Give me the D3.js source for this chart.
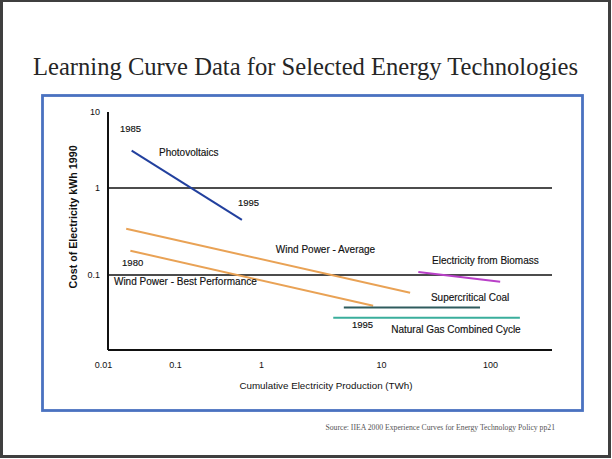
<!DOCTYPE html>
<html>
<head>
<meta charset="utf-8">
<script src="https://cdn.jsdelivr.net/npm/d3@7"></script>
<style>
  body { margin: 0; background: #fff; }
  svg text { font-family: "Liberation Sans", Arial, sans-serif; fill: #111; }
</style>
</head>
<body>
<svg id="chart" width="612" height="459"></svg>
<script>
// Tick values (log axes)
var xTicks = [0.01, 0.1, 1, 10, 100];
var yTicks = [0.01, 0.1, 1, 10];

// Learning curves: [cumulative production TWh, cost per kWh]
var photovoltaics = [[0.025, 3.1], [0.6, 0.43]];
var windAverage = [[0.021, 0.34], [18.5, 0.058]];
var windBest = [[0.024, 0.19], [8.6, 0.039]];
var biomass = [[22, 0.108], [124, 0.081]];
var supercriticalCoal = [[4.9, 0.037], [81, 0.037]];
var naturalGas = [[4, 0.027], [188, 0.027]];

var seriesNames = ["Photovoltaics", "Wind Power - Average", "Wind Power - Best Performance",
  "Electricity from Biomass", "Supercritical Coal", "Natural Gas Combined Cycle"];
var seriesData = [photovoltaics, windAverage, windBest, biomass, supercriticalCoal, naturalGas];
var seriesColors = ["#22409e", "#e9a255", "#e9a255", "#b940c8", "#2f5c5e", "#3aae9c"];

// Annotation text, anchored in data space: [x, y, text]
var annotations = [
  [0.0172, 5.97, "1985"],
  [0.06, 2.89, "Photovoltaics"],
  [0.54, 0.672, "1995"],
  [1.33, 0.194, "Wind Power - Average"],
  [0.0184, 0.137, "1980"],
  [0.0142, 0.0807, "Wind Power - Best Performance"],
  [29.4, 0.145, "Electricity from Biomass"],
  [28.7, 0.0494, "Supercritical Coal"],
  [5.73, 0.0215, "1995"],
  [12.4, 0.0185, "Natural Gas Combined Cycle"]
];

var svg = d3.select("#chart");

// Slide frame
svg.append("rect")
  .attr("x", 1.5).attr("y", 0.5)
  .attr("width", 608).attr("height", 456)
  .attr("fill", "#fff")
  .attr("stroke", "#3f3f3f")
  .attr("stroke-width", 3);

svg.append("text")
  .attr("x", 33).attr("y", 75)
  .attr("font-size", 24.6)
  .style("font-family", '"Liberation Serif", serif')
  .style("fill", "#262626")
  .text("Learning Curve Data for Selected Energy Technologies");

// Blue chart border
svg.append("rect")
  .attr("x", 42.5).attr("y", 95.5)
  .attr("width", 540).attr("height", 315)
  .attr("fill", "none")
  .attr("stroke", "#4a72c0")
  .attr("stroke-width", 2.8);

svg.append("text")
  .attr("x", 555).attr("y", 430)
  .attr("text-anchor", "end")
  .attr("font-size", 7.7)
  .style("font-family", '"Liberation Serif", serif')
  .style("fill", "#555")
  .text("Source: IIEA 2000 Experience Curves for Energy Technology Policy pp21");

// Plot area
var plot = { left: 108, right: 552, top: 112, bottom: 350 };

// Piecewise log scales (decades are not evenly spaced in the source)
var xScale = d3.scaleLog().domain(xTicks).range([103, 175, 261, 381, 490]);
var yScale = d3.scaleLog().domain(yTicks).range([plot.bottom, 275, 188, plot.top]);

var g = svg.append("g");

// Grid lines at 1 and 0.1
g.selectAll("line.grid")
  .data(yTicks.filter(function(d) { return d === 1 || d === 0.1; }))
  .enter()
  .append("line")
  .attr("class", "grid")
  .attr("x1", plot.left).attr("x2", plot.right)
  .attr("y1", function(d) { return yScale(d); })
  .attr("y2", function(d) { return yScale(d); })
  .attr("stroke", "#111")
  .attr("stroke-width", 1.6);

// Axis lines
g.append("line")
  .attr("x1", plot.left).attr("x2", plot.right)
  .attr("y1", plot.bottom).attr("y2", plot.bottom)
  .attr("stroke", "#111").attr("stroke-width", 2);
g.append("line")
  .attr("x1", plot.left).attr("x2", plot.left)
  .attr("y1", plot.top).attr("y2", plot.bottom)
  .attr("stroke", "#111").attr("stroke-width", 2);

var fmt = function(d) { return d >= 1 ? d3.format("d")(d) : String(d); };

var xAxis = d3.axisBottom(xScale)
  .tickValues(xTicks)
  .tickFormat(fmt)
  .tickSize(0)
  .tickPadding(12);
var xAxisG = g.append("g")
  .attr("transform", "translate(0," + plot.bottom + ")")
  .call(xAxis);
xAxisG.select(".domain").remove();
xAxisG.selectAll("text").attr("font-size", 9).style("font-family", '"Liberation Sans", Arial, sans-serif');

var yAxis = d3.axisLeft(yScale)
  .tickValues(yTicks.filter(function(d) { return d > 0.01; }))
  .tickFormat(fmt)
  .tickSize(0)
  .tickPadding(8);
var yAxisG = g.append("g")
  .attr("transform", "translate(" + plot.left + ",0)")
  .call(yAxis);
yAxisG.select(".domain").remove();
yAxisG.selectAll("text").attr("font-size", 9).style("font-family", '"Liberation Sans", Arial, sans-serif');

// Axis titles
g.append("text")
  .attr("x", 326).attr("y", 389)
  .attr("text-anchor", "middle")
  .attr("font-size", 9.8)
  .text("Cumulative Electricity Production (TWh)");

g.append("text")
  .attr("transform", "translate(77,217) rotate(-90)")
  .attr("text-anchor", "middle")
  .attr("font-size", 10.7)
  .attr("font-weight", "bold")
  .text("Cost of Electricity kWh 1990");

// Learning curve lines
var line = d3.line()
  .x(function(d) { return xScale(d[0]); })
  .y(function(d) { return yScale(d[1]); });

g.append("g")
  .attr("class", "curves")
  .selectAll("path")
  .data(seriesData)
  .enter()
  .append("path")
  .attr("d", line)
  .attr("fill", "none")
  .attr("stroke", function(d, i) { return seriesColors[i]; })
  .attr("stroke-width", 2);

// Labels
g.append("g")
  .attr("class", "labels")
  .selectAll("text")
  .data(annotations)
  .enter()
  .append("text")
  .attr("x", function(d) { return xScale(d[0]); })
  .attr("y", function(d) { return yScale(d[1]); })
  .attr("dy", "0.35em")
  .attr("font-size", function(d) { return /^\d+$/.test(d[2]) ? 9.5 : 10; })
  .style("stroke", "#111")
  .style("stroke-width", 0.15)
  .text(function(d) { return d[2]; });
</script>
</body>
</html>
